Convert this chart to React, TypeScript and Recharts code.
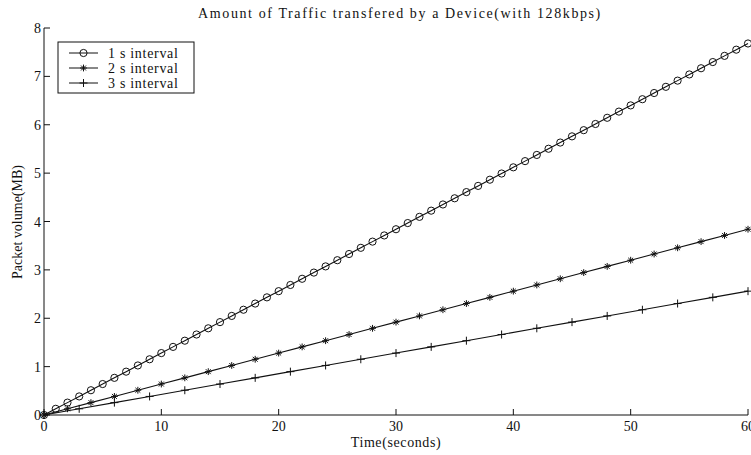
import { LineChart, Line, XAxis, YAxis } from 'recharts'

const FONT = '"Liberation Serif", "Times New Roman", serif'

// time stamps (seconds) for each sampling interval
const time1s = [0, 1, 2, 3, 4, 5, 6, 7, 8, 9, 10, 11, 12, 13, 14, 15, 16, 17, 18, 19, 20, 21, 22, 23, 24, 25, 26, 27, 28, 29, 30, 31, 32, 33, 34, 35, 36, 37, 38, 39, 40, 41, 42, 43, 44, 45, 46, 47, 48, 49, 50, 51, 52, 53, 54, 55, 56, 57, 58, 59, 60]
const time2s = [0, 2, 4, 6, 8, 10, 12, 14, 16, 18, 20, 22, 24, 26, 28, 30, 32, 34, 36, 38, 40, 42, 44, 46, 48, 50, 52, 54, 56, 58, 60]
const time3s = [0, 3, 6, 9, 12, 15, 18, 21, 24, 27, 30, 33, 36, 39, 42, 45, 48, 51, 54, 57, 60]

// packet volume (MB)
const volume1s = [0, 0.128, 0.256, 0.384, 0.512, 0.64, 0.768, 0.896, 1.024, 1.152, 1.28, 1.408, 1.536, 1.664, 1.792, 1.92, 2.048, 2.176, 2.304, 2.432, 2.56, 2.688, 2.816, 2.944, 3.072, 3.2, 3.328, 3.456, 3.584, 3.712, 3.84, 3.968, 4.096, 4.224, 4.352, 4.48, 4.608, 4.736, 4.864, 4.992, 5.12, 5.248, 5.376, 5.504, 5.632, 5.76, 5.888, 6.016, 6.144, 6.272, 6.4, 6.528, 6.656, 6.784, 6.912, 7.04, 7.168, 7.296, 7.424, 7.552, 7.68]
const volume2s = [0, 0.128, 0.256, 0.384, 0.512, 0.64, 0.768, 0.896, 1.024, 1.152, 1.28, 1.408, 1.536, 1.664, 1.792, 1.92, 2.048, 2.176, 2.304, 2.432, 2.56, 2.688, 2.816, 2.944, 3.072, 3.2, 3.328, 3.456, 3.584, 3.712, 3.84]
const volume3s = [0, 0.128, 0.256, 0.384, 0.512, 0.64, 0.768, 0.896, 1.024, 1.152, 1.28, 1.408, 1.536, 1.664, 1.792, 1.92, 2.048, 2.176, 2.304, 2.432, 2.56]

const xTicks = [0, 10, 20, 30, 40, 50, 60]
const yTicks = [0, 1, 2, 3, 4, 5, 6, 7, 8]
const seriesNames = ['1 s interval', '2 s interval', '3 s interval']

const toRows = (ts: number[], vs: number[]) => ts.map((t, i) => ({ t, v: vs[i] }))
const seriesData = [toRows(time1s, volume1s), toRows(time2s, volume2s), toRows(time3s, volume3s)]

const INK = '#111'

function CircleMark({ cx, cy, r = 3.6 }: { cx: number; cy: number; r?: number }) {
  return <circle cx={cx} cy={cy} r={r} fill="none" stroke={INK} strokeWidth={1} />
}

function StarMark({ cx, cy, s = 3.4 }: { cx: number; cy: number; s?: number }) {
  const d = s * 0.72
  return (
    <g stroke={INK} strokeWidth={1}>
      <line x1={cx - s} y1={cy} x2={cx + s} y2={cy} />
      <line x1={cx} y1={cy - s} x2={cx} y2={cy + s} />
      <line x1={cx - d} y1={cy - d} x2={cx + d} y2={cy + d} />
      <line x1={cx - d} y1={cy + d} x2={cx + d} y2={cy - d} />
    </g>
  )
}

function PlusMark({ cx, cy, s = 4 }: { cx: number; cy: number; s?: number }) {
  return (
    <g stroke={INK} strokeWidth={1}>
      <line x1={cx - s} y1={cy} x2={cx + s} y2={cy} />
      <line x1={cx} y1={cy - s} x2={cx} y2={cy + s} />
    </g>
  )
}

const MARKS = [CircleMark, StarMark, PlusMark]

// ticks drawn inward, labels outside (matlab style box)
function BottomTick(props: any) {
  const { x, y, payload } = props
  return (
    <g>
      <line x1={x} x2={x} y1={y} y2={y - 6} stroke={INK} />
      <text x={x} y={y + 16} textAnchor="middle" fontSize={14} fontFamily={FONT} fill={INK}>
        {payload.value}
      </text>
    </g>
  )
}

function LeftTick(props: any) {
  const { x, y, payload } = props
  return (
    <g>
      <line x1={x} x2={x + 6} y1={y} y2={y} stroke={INK} />
      <text x={x - 3} y={y} dy="0.36em" textAnchor="end" fontSize={14} fontFamily={FONT} fill={INK}>
        {payload.value}
      </text>
    </g>
  )
}

// legend box in the upper left corner of the plot
function LegendBox({ x, y }: { x: number; y: number }) {
  return (
    <g>
      <rect x={x} y={y} width={136} height={51} fill="#fff" stroke={INK} strokeWidth={1} />
      {seriesNames.map((name, i) => {
        const Mark = MARKS[i]
        const ry = y + 11 + i * 15
        return (
          <g key={name}>
            <line x1={x + 11} x2={x + 40} y1={ry} y2={ry} stroke={INK} />
            <Mark cx={x + 25.5} cy={ry} />
            <text x={x + 50} y={ry} dy="0.35em" fontSize={14} letterSpacing={0.7} fontFamily={FONT} fill={INK}>
              {name}
            </text>
          </g>
        )
      })}
    </g>
  )
}

export default function App() {
  return (
    <div style={{ position: 'absolute', left: 0, top: 0, background: '#fff' }}>
      <LineChart width={751} height={455} margin={{ top: 28, right: 3, bottom: 10, left: 0 }}>
        <XAxis
          dataKey="t"
          type="number"
          domain={[0, 60]}
          ticks={xTicks}
          height={30}
          tickSize={0}
          tickMargin={0}
          tickLine={false}
          axisLine={{ stroke: INK }}
          tick={<BottomTick />}
          interval={0}
        />
        <XAxis
          xAxisId="top"
          orientation="top"
          type="number"
          domain={[0, 60]}
          ticks={xTicks}
          height={0}
          mirror
          tickSize={6}
          tickFormatter={() => ''}
          axisLine={{ stroke: INK }}
          tickLine={{ stroke: INK }}
          interval={0}
        />
        <YAxis
          type="number"
          domain={[0, 8]}
          ticks={yTicks}
          width={44}
          tickSize={0}
          tickMargin={0}
          tickLine={false}
          axisLine={{ stroke: INK }}
          tick={<LeftTick />}
          interval={0}
        />
        <YAxis
          yAxisId="right"
          orientation="right"
          type="number"
          domain={[0, 8]}
          ticks={yTicks}
          width={0}
          mirror
          tickSize={6}
          tickFormatter={() => ''}
          axisLine={{ stroke: INK }}
          tickLine={{ stroke: INK }}
          interval={0}
        />
        {seriesData.map((d, i) => {
          const Mark = MARKS[i]
          return (
            <Line
              key={seriesNames[i]}
              name={seriesNames[i]}
              data={d}
              dataKey="v"
              type="linear"
              stroke={INK}
              strokeWidth={1.1}
              isAnimationActive={false}
              dot={(p: any) => <Mark key={`m${i}-${p.index}`} cx={p.cx} cy={p.cy} />}
              activeDot={false}
            />
          )
        })}
        <LegendBox x={58} y={42} />
        <text x={400} y={18} textAnchor="middle" fontSize={14} letterSpacing={1.6} fontFamily={FONT} fill={INK}>
          Amount of Traffic transfered by a Device(with 128kbps)
        </text>
        <text x={396} y={447} textAnchor="middle" fontSize={14} letterSpacing={0.6} fontFamily={FONT} fill={INK}>
          Time(seconds)
        </text>
        <text
          x={22}
          y={222}
          textAnchor="middle"
          fontSize={14}
          fontFamily={FONT}
          fill={INK}
          transform="rotate(-90 22 222)"
        >
          Packet volume(MB)
        </text>
      </LineChart>
    </div>
  )
}
